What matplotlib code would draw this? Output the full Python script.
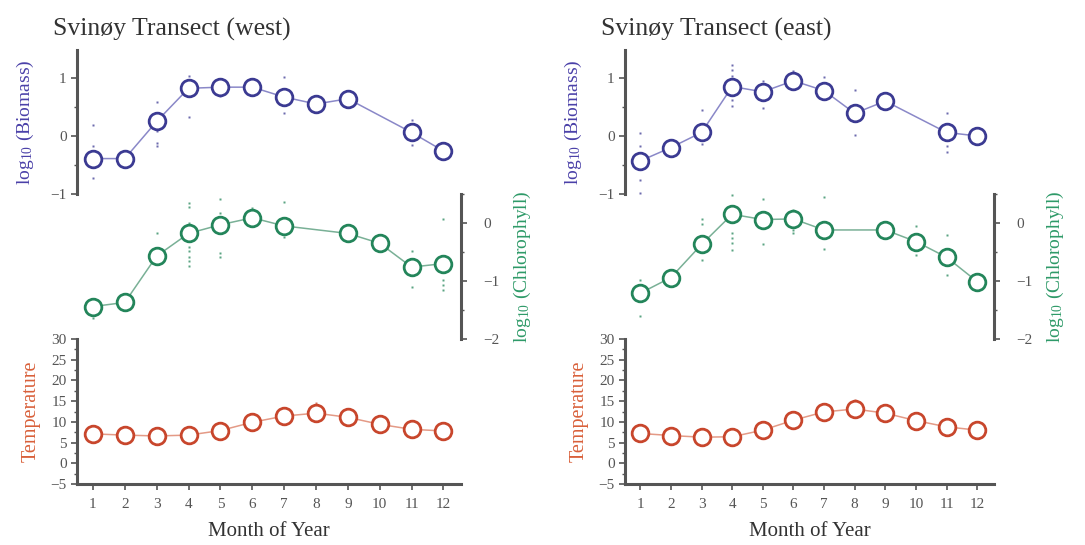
import numpy as np
import matplotlib.pyplot as plt
from matplotlib.ticker import MultipleLocator

plt.rcParams['font.family'] = ['Liberation Serif', 'DejaVu Serif']
plt.rcParams['mathtext.default'] = 'regular'

# Data
months = np.arange(1, 13)

# monthly means (None = no data)
bio_west = [-0.39, -0.39, 0.25, 0.82, 0.84, 0.84, 0.67, 0.55, 0.64, None, 0.06, -0.26]
chl_west = [-1.44, -1.37, -0.57, -0.18, -0.03, 0.09, -0.05, None, -0.18, -0.35, -0.76, -0.70]
temp_west = [7.1, 6.8, 6.6, 6.8, 7.9, 9.9, 11.4, 12.1, 11.1, 9.4, 8.2, 7.8]

bio_east = [-0.43, -0.20, 0.06, 0.85, 0.76, 0.95, 0.78, 0.39, 0.60, None, 0.06, 0.00]
chl_east = [-1.21, -0.94, -0.37, 0.15, 0.06, 0.07, -0.12, None, -0.12, -0.32, -0.59, -1.01]
temp_east = [7.2, 6.7, 6.3, 6.4, 8.0, 10.4, 12.4, 13.1, 12.1, 10.3, 8.8, 8.0]

# individual observations (small dots)
bio_west_obs_m = [1, 1, 1, 3, 3, 3, 3, 4, 4, 5, 7, 7, 11, 11]
bio_west_obs_v = [0.18, -0.18, -0.73, 0.59, 0.09, -0.12, -0.18, 1.03, 0.32, 0.68, 1.01, 0.39, 0.28, -0.15]
chl_west_obs_m = [1, 3, 3, 4, 4, 4, 4, 4, 4, 4, 4, 5, 5, 5, 5, 6, 7, 7, 11, 11, 12, 12, 12, 12]
chl_west_obs_v = [-1.64, -0.18, -0.69, 0.35, 0.28, 0.0, -0.41, -0.49, -0.58, -0.66, -0.74,
                  0.41, 0.17, -0.52, -0.59, 0.25, 0.37, -0.24, -0.48, -1.11, 0.07, -0.98, -1.07, -1.16]
bio_east_obs_m = [1, 1, 1, 1, 3, 3, 4, 4, 4, 4, 4, 5, 5, 6, 7, 8, 8, 11, 11, 11]
bio_east_obs_v = [0.05, -0.17, -0.76, -0.98, 0.45, -0.14, 1.22, 1.13, 1.03, 0.62, 0.52,
                  0.94, 0.48, 1.11, 1.01, 0.79, 0.02, 0.39, -0.18, -0.27]
chl_east_obs_m = [1, 1, 3, 3, 3, 4, 4, 4, 4, 4, 5, 5, 6, 6, 6, 7, 7, 10, 10, 11, 11]
chl_east_obs_v = [-0.98, -1.61, 0.07, -0.01, -0.63, 0.49, -0.17, -0.26, -0.34, -0.46,
                  0.41, -0.37, 0.23, -0.12, -0.17, 0.45, -0.45, -0.06, -0.56, -0.2, -0.89]
temp_west_obs_m = [8]
temp_west_obs_v = [14.6]
temp_east_obs_m = [6, 7, 8]
temp_east_obs_v = [11.8, 13.8, 15.2]

# colours
bio_c, bio_line, bio_lab = '#3b3a92', '#8a88c8', '#4a40a8'
chl_c, chl_line, chl_lab = '#23855a', '#79b096', '#2e9a68'
tmp_c, tmp_line, tmp_lab = '#c8462c', '#e49a86', '#d9603a'
spine_c = '#555555'
tick_c = '#555555'

W, H = 1085, 545
fig = plt.figure(figsize=(W / 100, H / 100), dpi=100)


def px_axes(x0, x1, y0, y1):
    return fig.add_axes([x0 / W, 1 - y1 / H, (x1 - x0) / W, (y1 - y0) / H])


def style(ax, side):
    for s in ['left', 'right', 'top', 'bottom']:
        ax.spines[s].set_visible(False)
    ax.patch.set_alpha(0)
    ax.set_xlim(0.5, 12.55)
    ax.tick_params(axis='both', which='both', colors=spine_c, labelcolor=tick_c,
                   labelsize=11, direction='out')
    ax.tick_params(which='major', length=4, width=1.2)
    ax.tick_params(which='minor', length=2.5, width=1.0)
    for s in side:
        ax.spines[s].set_visible(True)
        ax.spines[s].set_color(spine_c)
        ax.spines[s].set_linewidth(2.2)


def series(ax, vals, col, lcol, om, ov):
    m = np.array([x for x, v in zip(months, vals) if v is not None])
    v = np.array([v for v in vals if v is not None])
    ax.plot(om, ov, 's', ms=1.8, color=col, alpha=0.75, mec='none', clip_on=False)
    ax.plot(m, v, '-', color=lcol, lw=1.1, clip_on=False, zorder=2)
    ax.plot(m, v, 'o', ms=12, mfc='white', mec=col, mew=2.0, clip_on=False, zorder=3)


def panel(x0, x1, title, bio, chl, temp, bom, bov, com, cov, tom, tov):
    # biomass
    ax1 = px_axes(x0, x1, 50, 194)
    style(ax1, ['left'])
    ax1.set_ylim(-1, 1.48)
    ax1.set_yticks([-1, 0, 1])
    ax1.yaxis.set_minor_locator(MultipleLocator(0.5))
    ax1.set_xticks([])
    ax1.set_ylabel('log$_{10}$ (Biomass)', color=bio_lab, fontsize=14, labelpad=10)
    series(ax1, bio, bio_c, bio_line, bom, bov)

    # chlorophyll
    ax2 = px_axes(x0, x1, 194, 339)
    style(ax2, ['right'])
    ax2.yaxis.tick_right()
    ax2.yaxis.set_label_position('right')
    ax2.set_ylim(-2, 0.5)
    ax2.set_yticks([-2, -1, 0])
    ax2.yaxis.set_minor_locator(MultipleLocator(0.5))
    ax2.set_xticks([])
    ax2.tick_params(axis='y', which='both', pad=12)
    ax2.set_ylabel('log$_{10}$ (Chlorophyll)', color=chl_lab, fontsize=14, labelpad=9)
    series(ax2, chl, chl_c, chl_line, com, cov)

    # temperature
    ax3 = px_axes(x0, x1, 339, 484)
    style(ax3, ['left', 'bottom'])
    ax3.set_ylim(-5, 30)
    ax3.set_yticks(np.arange(-5, 31, 5))
    ax3.yaxis.set_minor_locator(MultipleLocator(2.5))
    ax3.set_xticks(months)
    ax3.tick_params(axis='x', pad=6)
    ax3.set_ylabel('Temperature', color=tmp_lab, fontsize=14.5, labelpad=7)
    ax3.set_xlabel('Month of Year', color='#333333', fontsize=15, labelpad=8)
    series(ax3, temp, tmp_c, tmp_line, tom, tov)

    fig.text((x0 - 24) / W, 1 - 36 / H, title, fontsize=18.5, color='#333333')


panel(77, 461, 'Svinøy Transect (west)', bio_west, chl_west, temp_west,
      bio_west_obs_m, bio_west_obs_v, chl_west_obs_m, chl_west_obs_v,
      temp_west_obs_m, temp_west_obs_v)
panel(625, 994, 'Svinøy Transect (east)', bio_east, chl_east, temp_east,
      bio_east_obs_m, bio_east_obs_v, chl_east_obs_m, chl_east_obs_v,
      temp_east_obs_m, temp_east_obs_v)

fig.savefig('out.png', dpi=100)
